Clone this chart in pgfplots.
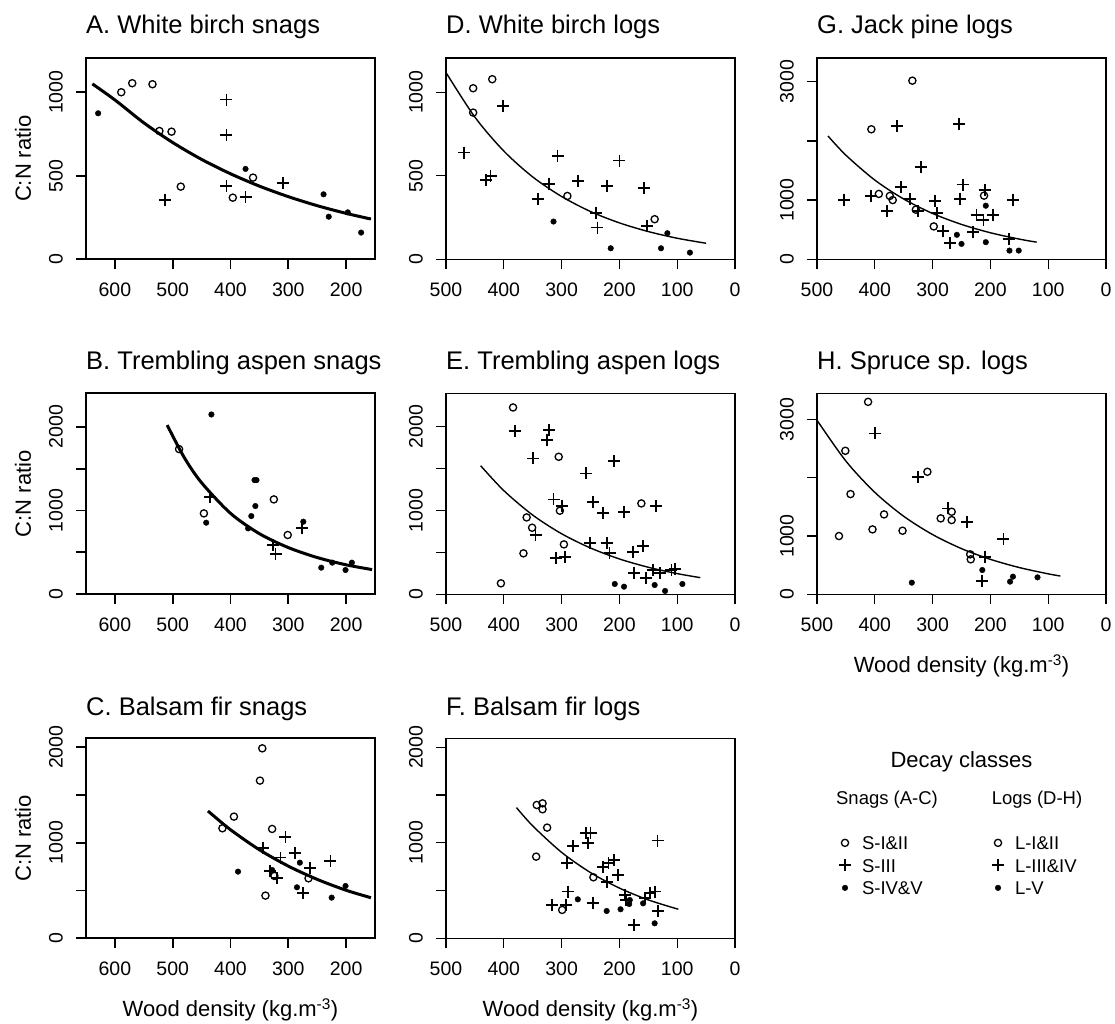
\documentclass[border=0pt]{standalone}
\usepackage{fontspec}
\setmainfont{Liberation Sans}
\usepackage{pgfplots}
\pgfplotsset{compat=1.18}
\newcommand\titlefont{\fontsize{25.5}{30}\selectfont}
\newcommand\labfont{\fontsize{22}{26}\selectfont}
\newcommand\tickfont{\fontsize{19.5}{23}\selectfont}
\newcommand\legfont{\fontsize{18.5}{22}\selectfont}
\pgfplotsset{
  panel/.style={scale only axis, anchor=south west, x dir=reverse, width=289pt,
    axis line style={line width=1.3pt}, tick style={line width=1.3pt, black},
    major tick length=10pt, tick align=outside, tick pos=left, clip=false,
    ticklabel style={font=\tickfont},
    xticklabel style={anchor=north, inner xsep=0pt, inner ysep=13pt},
    yticklabel style={rotate=90, anchor=south, inner xsep=0pt, inner ysep=13pt}},
  colA/.style={xmin=150, xmax=650, xtick={200,300,400,500,600}, xticklabels={200,300,400,500,600},
    axis line style={line width=1.9pt}, tick style={line width=1.9pt, black}},
  colD/.style={xmin=0, xmax=500, xtick={0,100,200,300,400,500}, xticklabels={0,100,200,300,400,500}},
  yA/.style={ymin=0, ymax=1205, ytick={0,500,1000}, yticklabels={0,500,1000}},
  yB/.style={ymin=0, ymax=2400, ytick={0,500,1000,1500,2000}, yticklabels={0,,1000,,2000}},
  yC/.style={ymin=0, ymax=2094, ytick={0,500,1000,1500,2000}, yticklabels={0,,1000,,2000}},
  yG/.style={ymin=0, ymax=3400, ytick={0,1000,2000,3000}, yticklabels={0,1000,,3000}},
  yH/.style={ymin=0, ymax=3450, ytick={0,1000,2000,3000}, yticklabels={0,1000,,3000}},
  c1/.style={only marks, mark=o, mark size=3.6pt, mark options={line width=1.3pt, black}},
  c2/.style={only marks, mark=+, mark size=6pt, mark options={line width=1.8pt, black}},
  c3/.style={only marks, mark=*, mark size=2.8pt, mark options={black, fill=black}},
  fitthick/.style={no marks, line width=3pt, black, smooth},
  fitthin/.style={no marks, line width=1.4pt, black, smooth},
  legax/.style={hide axis, scale only axis, width=20pt, height=20pt, xmin=0, xmax=1, ymin=0, ymax=1,
    anchor=north west,
    legend style={at={(0,1)}, anchor=north west, draw=none, fill=none, inner sep=0pt, outer sep=0pt,
      font=\legfont, row sep=9pt, nodes={inner sep=0pt, text height=13.5pt, text depth=0pt}},
    legend cell align=left,
    legend image code/.code={\path[draw=none] (0pt,0pt) -- (28pt,0pt); \path[draw=none,##1] plot coordinates {(11pt,0pt)};}},
}
\begin{document}
\begin{tikzpicture}
\path[use as bounding box] (0pt,0pt) rectangle (1115pt,1023pt);
% A
\begin{axis}[panel, colA, yA, height=201.3pt, at={(86pt,763.7pt)}]
\addplot[c1] coordinates {(589,1000)(570,1054)(535,1048)(523,768)(502,764)(486,435)(396,369)(361,489)};
\addplot[c2] coordinates {(513,353)(407,956)(407,744)(407,441)(374,371)(309,455)};
\addplot[c3] coordinates {(629,874)(374,541)(239,389)(230,255)(197,281)(174,160)};
\addplot[fitthick] coordinates {(639,1050)(600,954)(550,817)(500,699)(450,598)(400,512)(350,438)(300,375)(250,321)(200,275)(157,241)};
\end{axis}
% D
\begin{axis}[panel, colD, yA, height=201.3pt, at={(446pt,763.7pt)}]
\addplot[c1] coordinates {(453,1024)(453,878)(420,1078)(290,379)(139,240)};
\addplot[c2] coordinates {(469,639)(401,918)(431,475)(423,499)(341.5,361)(322,451)(307,619)(271,471)(241,279)(238,190)(221,441)(200,591)(158,429)(152,200)};
\addplot[c3] coordinates {(314,226)(215,66)(128,66)(117,156)(78,40)};
\addplot[fitthin] coordinates {(500,1118)(450,851)(400,648)(350,493)(300,376)(250,286)(200,218)(150,166)(100,126)(50,96)};
\end{axis}
% G
\begin{axis}[panel, colD, yG, height=201.3pt, at={(817pt,763.7pt)}]
\addplot[c1] coordinates {(406,2196)(335,3017)(393,1104)(374,1070)(369,1000)(329,838)(298,555)(211,1075)};
\addplot[c2] coordinates {(453,1007)(406,1064)(362,2253)(379,809)(354,1223)(339,1019)(320,1557)(325,809)(296,979)(293,781)(281.5,481)(270,272)(254,2281)(248,1262)(253,1024)(229.5,458)(224,753)(210,1177)(212,668)(196,753)(161,1007)(168,340)};
\addplot[c3] coordinates {(258,413)(250,260)(208,905)(208,289)(167,147)(151,147)};
\addplot[fitthin] coordinates {(481,2083)(450,1758)(400,1338)(350,1018)(300,774)(250,589)(200,448)(150,341)(120,289)};
\end{axis}
% B
\begin{axis}[panel, colA, yB, height=201pt, at={(86pt,428.7pt)}]
\addplot[c1] coordinates {(489,1734)(446,966)(325,1133)(301,708)};
\addplot[c2] coordinates {(435,1165)(326,588)(322,481)(276,787)};
\addplot[c3] coordinates {(433,2147)(442,855)(369.5,787)(364,934)(358.5,1364)(355,1364)(357,1054)(274,867)(243,318)(224,378)(201,290)(190,378)};
\addplot[fitthick] coordinates {(509.5,2020)(480,1633)(450,1332)(400,967)(350,724)(300,558)(250,439)(200,352)(155,295)};
\end{axis}
% E
\begin{axis}[panel, colD, yB, height=201pt, at={(446pt,428.7pt)}]
\addplot[c1] coordinates {(384,2231)(305,1642)(360.5,918)(351,795)(303,998)(296,596)(366,489)(405,131)(162,1085)};
\addplot[c2] coordinates {(381,1948)(322,1960)(325,1841)(349,1622)(314,1133)(300,1058)(345,708)(310,429)(294,441)(258,1443)(245,1105)(228,966)(209.5,1590)(192,986)(251,608)(222,608)(217,489)(176,509)(159,577)(175,258)(154,199)(137,1058)(141.5,290)(130,250)(110,290)(104,298)};
\addplot[c3] coordinates {(208,123)(192,91)(139,111)(121,40)(91,123)};
\addplot[fitthin] coordinates {(440,1535)(400,1238)(350,946)(300,723)(250,553)(200,422)(150,323)(100,247)(60,199)};
\end{axis}
% H
\begin{axis}[panel, colD, yH, height=201pt, at={(817pt,428.7pt)}]
\addplot[c1] coordinates {(411.6,3303)(451,2463)(442,1720)(462,1000)(404,1114)(384,1371)(352,1091)(309,2103)(286,1303)(267,1417)(267,1274)(235,686)(234,600)};
\addplot[c2] coordinates {(400,2760)(325,2017)(273,1474)(241,1246)(177.5,943)(209,646)(215,229)};
\addplot[c3] coordinates {(336,200)(214,417)(166,217)(161,303)(118.5,291)};
\addplot[fitthin] coordinates {(500,2988)(450,2286)(400,1750)(350,1339)(300,1025)(250,784)(200,600)(150,459)(100,351)(79,314)};
\end{axis}
% C
\begin{axis}[panel, colA, yC, height=200pt, at={(86pt,84.7pt)}]
\addplot[c1] coordinates {(345,1989)(349,1651)(394,1274)(414,1152)(328,1145)(339.5,447)(324,653)(265,628)};
\addplot[c2] coordinates {(343.5,949)(305,1064)(313.5,845)(289,890)(331,708)(319,628)(274,471)(262,733)(227,813)};
\addplot[c3] coordinates {(387,698)(328,715)(280,792)(285,534)(225,426)(201,548)};
\addplot[fitthick] coordinates {(439,1333)(400,1137)(350,927)(300,756)(250,617)(200,503)(157,425)};
\end{axis}
% F
\begin{axis}[panel, colD, yC, height=200pt, at={(446pt,84.7pt)}]
\addplot[c1] coordinates {(343,1396)(333,1413)(333,1351)(325,1159)(344,855)(299,297)(245,639)};
\addplot[c2] coordinates {(317,349)(293,349)(288.5,489)(290,785)(280,967)(258,1099)(250,1106)(255,995)(245,373)(228,750)(219,785)(209.5,820)(222,593)(202,663)(190.5,454)(188,401)(175,140)(156,419)(147,471)(139,489)(134,1023)(133,286)};
\addplot[c3] coordinates {(272,408)(222,286)(198,304)(182,401)(183,359)(159,366)(139,157)};
\addplot[fitthin] coordinates {(378,1368)(350,1177)(300,900)(250,688)(200,526)(150,402)(98,304)};
\end{axis}
% legends
\begin{axis}[legax, at={(834pt,186.9pt)}]
\addlegendimage{c1}\addlegendentry{S-I\&II}
\addlegendimage{c2}\addlegendentry{S-III}
\addlegendimage{c3}\addlegendentry{S-IV\&V}
\end{axis}
\begin{axis}[legax, at={(987pt,186.9pt)}]
\addlegendimage{c1}\addlegendentry{L-I\&II}
\addlegendimage{c2}\addlegendentry{L-III\&IV}
\addlegendimage{c3}\addlegendentry{L-V}
\end{axis}
% titles
\node[anchor=base west, inner sep=0pt, font=\titlefont] at (86pt,989.7pt) {A. White birch snags};
\node[anchor=base west, inner sep=0pt, font=\titlefont] at (446pt,989.7pt) {D. White birch logs};
\node[anchor=base west, inner sep=0pt, font=\titlefont] at (817pt,989.7pt) {G. Jack pine logs};
\node[anchor=base west, inner sep=0pt, font=\titlefont] at (86pt,653pt) {B. Trembling aspen snags};
\node[anchor=base west, inner sep=0pt, font=\titlefont] at (446pt,653pt) {E. Trembling aspen logs};
\node[anchor=base west, inner sep=0pt, font=\titlefont] at (817pt,653pt) {H. Spruce sp. logs};
\node[anchor=base west, inner sep=0pt, font=\titlefont] at (86pt,308pt) {C. Balsam fir snags};
\node[anchor=base west, inner sep=0pt, font=\titlefont] at (446pt,308pt) {F. Balsam fir logs};
% axis labels
\node[rotate=90, inner sep=0pt, font=\labfont] at (23pt,864.4pt) {C:N ratio};
\node[rotate=90, inner sep=0pt, font=\labfont] at (23pt,529.2pt) {C:N ratio};
\node[rotate=90, inner sep=0pt, font=\labfont] at (23pt,184.7pt) {C:N ratio};
\node[inner sep=0pt, font=\labfont] at (230.5pt,13pt) {Wood density (kg.m\textsuperscript{-3})};
\node[inner sep=0pt, font=\labfont] at (590.5pt,13pt) {Wood density (kg.m\textsuperscript{-3})};
\node[inner sep=0pt, font=\labfont] at (961.5pt,357pt) {Wood density (kg.m\textsuperscript{-3})};
% legend headers
\node[inner sep=0pt, font=\labfont] at (961.5pt,261pt) {Decay classes};
\node[inner sep=0pt, font=\legfont] at (887pt,223pt) {Snags (A-C)};
\node[inner sep=0pt, font=\legfont] at (1037pt,223pt) {Logs (D-H)};
\end{tikzpicture}
\end{document}
